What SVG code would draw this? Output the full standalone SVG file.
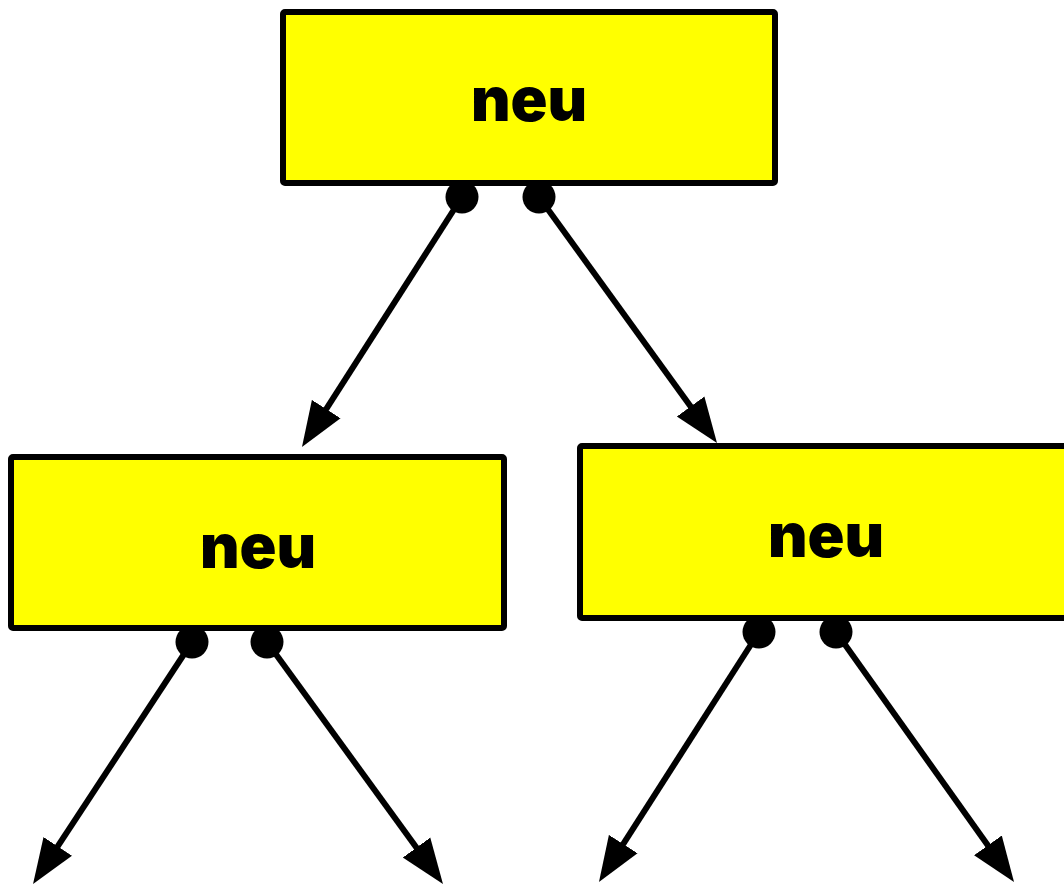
<svg xmlns="http://www.w3.org/2000/svg" width="1064" height="884" viewBox="0 0 1064 884">
<style>
.box{fill:#ffff00;stroke:#000;stroke-width:6;stroke-linejoin:round}
.lbl{font-family:Inter,"Liberation Sans",Arial,sans-serif;font-weight:900;font-size:61px;text-anchor:middle;fill:#000}
.edge{stroke:#000;stroke-width:6;fill:none;marker-end:url(#arr)}
.dot{fill:#000}
</style>
<defs>
<marker id="arr" markerUnits="userSpaceOnUse" markerWidth="46" markerHeight="36" viewBox="0 0 46 36" refX="1" refY="18" orient="auto">
<path d="M0,1 L45,18 L0,35 z" fill="#000"/>
</marker>
</defs>
<rect width="1064" height="884" fill="#fff"/>
<g id="connectors">
<line class="edge" x1="462" y1="197" x2="325.7" y2="409.9"/>
<line class="edge" x1="539" y1="197" x2="691.2" y2="407.3"/>
<line class="edge" x1="192" y1="642" x2="57.2" y2="847.2"/>
<line class="edge" x1="267" y1="642" x2="417.1" y2="848.4"/>
<line class="edge" x1="759" y1="632" x2="622.7" y2="844.9"/>
<line class="edge" x1="836" y1="632" x2="988.5" y2="846.2"/>
<circle class="dot" cx="462" cy="197" r="16.5"/>
<circle class="dot" cx="539" cy="197" r="16.5"/>
<circle class="dot" cx="192" cy="642" r="16.5"/>
<circle class="dot" cx="267" cy="642" r="16.5"/>
<circle class="dot" cx="759" cy="632" r="16.5"/>
<circle class="dot" cx="836" cy="632" r="16.5"/>
</g>
<g id="node-top">
<rect class="box" x="283" y="12" width="492" height="171" rx="2"/>
<text class="lbl" x="529" y="121">neu</text>
</g>
<g id="node-left">
<rect class="box" x="11" y="457" width="493" height="171" rx="2"/>
<text class="lbl" x="258" y="568">neu</text>
</g>
<g id="node-right">
<rect class="box" x="580" y="446" width="492" height="172" rx="2"/>
<text class="lbl" x="826" y="557">neu</text>
</g>
</svg>
